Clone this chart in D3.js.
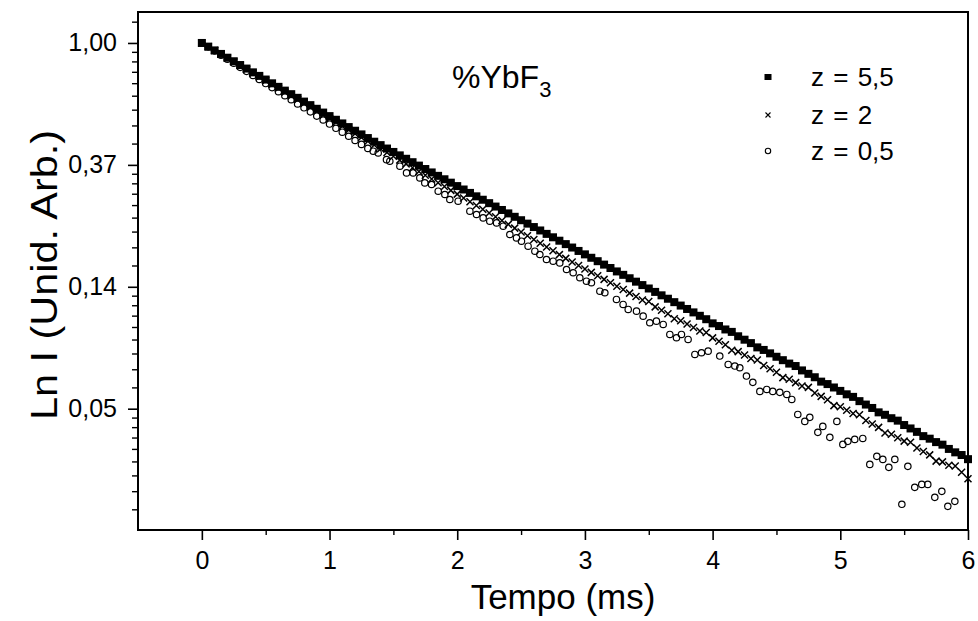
<!DOCTYPE html>
<html><head><meta charset="utf-8">
<script src="https://cdn.jsdelivr.net/npm/d3@7"></script>
<style>
body{margin:0;background:#fff}
svg{display:block}
text{font-family:"Liberation Sans",Arial,Helvetica,sans-serif;fill:#000}
</style>
</head><body>
<svg id="chart" width="978" height="621"></svg>
<script>
// ---- data (ln I values) ----
const timeGrid = [0.00,0.05,0.10,0.15,0.20,0.25,0.30,0.35,0.40,0.45,
0.50,0.55,0.60,0.65,0.70,0.75,0.80,0.85,0.90,0.95,
1.00,1.05,1.10,1.15,1.20,1.25,1.30,1.35,1.40,1.45,
1.50,1.55,1.60,1.65,1.70,1.75,1.80,1.85,1.90,1.95,
2.00,2.05,2.10,2.15,2.20,2.25,2.30,2.35,2.40,2.45,
2.50,2.55,2.60,2.65,2.70,2.75,2.80,2.85,2.90,2.95,
3.00,3.05,3.10,3.15,3.20,3.25,3.30,3.35,3.40,3.45,
3.50,3.55,3.60,3.65,3.70,3.75,3.80,3.85,3.90,3.95,
4.00,4.05,4.10,4.15,4.20,4.25,4.30,4.35,4.40,4.45,
4.50,4.55,4.60,4.65,4.70,4.75,4.80,4.85,4.90,4.95,
5.00,5.05,5.10,5.15,5.20,5.25,5.30,5.35,5.40,5.45,
5.50,5.55,5.60,5.65,5.70,5.75,5.80,5.85,5.90,5.95,
6.00];

const lnZ55 = [0.000,-0.030,-0.061,-0.090,-0.121,-0.150,-0.181,-0.210,-0.241,-0.270,
-0.300,-0.331,-0.360,-0.391,-0.420,-0.450,-0.481,-0.510,-0.540,-0.571,
-0.600,-0.630,-0.660,-0.690,-0.720,-0.750,-0.780,-0.810,-0.838,-0.866,
-0.894,-0.922,-0.950,-0.978,-1.006,-1.034,-1.062,-1.090,-1.118,-1.146,
-1.174,-1.202,-1.230,-1.258,-1.286,-1.314,-1.342,-1.370,-1.398,-1.426,
-1.454,-1.482,-1.510,-1.538,-1.566,-1.594,-1.622,-1.650,-1.678,-1.706,
-1.734,-1.762,-1.790,-1.818,-1.846,-1.874,-1.902,-1.930,-1.958,-1.986,
-2.014,-2.042,-2.070,-2.098,-2.126,-2.154,-2.182,-2.210,-2.238,-2.266,
-2.300,-2.322,-2.350,-2.370,-2.406,-2.434,-2.462,-2.497,-2.518,-2.546,
-2.574,-2.602,-2.630,-2.650,-2.686,-2.714,-2.742,-2.778,-2.798,-2.826,
-2.854,-2.882,-2.903,-2.938,-2.966,-2.994,-3.030,-3.050,-3.078,-3.098,
-3.134,-3.162,-3.190,-3.225,-3.246,-3.274,-3.295,-3.330,-3.358,-3.380,
-3.414];

const lnZ2 = [0.000,-0.031,-0.062,-0.093,-0.124,-0.155,-0.186,-0.217,-0.248,-0.279,
-0.310,-0.341,-0.372,-0.403,-0.434,-0.465,-0.496,-0.527,-0.558,-0.589,
-0.620,-0.651,-0.682,-0.713,-0.744,-0.775,-0.806,-0.837,-0.868,-0.899,
-0.930,-0.961,-0.992,-1.023,-1.054,-1.085,-1.116,-1.147,-1.178,-1.209,
-1.240,-1.271,-1.302,-1.333,-1.364,-1.395,-1.426,-1.457,-1.488,-1.519,
-1.550,-1.581,-1.612,-1.643,-1.674,-1.705,-1.736,-1.767,-1.797,-1.826,
-1.854,-1.882,-1.910,-1.939,-1.967,-1.995,-2.023,-2.052,-2.080,-2.108,
-2.120,-2.165,-2.193,-2.221,-2.262,-2.278,-2.306,-2.334,-2.362,-2.375,
-2.419,-2.447,-2.475,-2.520,-2.532,-2.560,-2.588,-2.600,-2.645,-2.673,
-2.701,-2.745,-2.758,-2.786,-2.814,-2.825,-2.871,-2.899,-2.927,-2.975,
-2.984,-3.012,-3.040,-3.050,-3.097,-3.125,-3.153,-3.200,-3.210,-3.238,
-3.266,-3.275,-3.323,-3.351,-3.379,-3.430,-3.436,-3.464,-3.470,-3.521,
-3.575];

const circTime = [0.00,0.05,0.10,0.15,0.20,0.25,0.30,0.35,0.40,0.45,0.50,0.55,0.60,0.65,0.70,0.75,0.80,0.85,0.90,0.95,1.00,1.05,1.10,1.15,1.20,1.25,1.30,
1.342,1.381,1.446,1.472,1.551,1.603,1.655,1.707,1.746,1.799,1.851,1.903,1.942,2.007,2.099,2.151,2.203,2.255,2.308,2.360,2.412,2.464,2.503,2.555,2.608,2.647,2.699,2.751,2.803,2.856,2.908,2.960,3.012,3.051,3.117,3.156,3.247,3.299,3.339,3.404,3.456,3.508,3.560,3.613,3.665,3.717,3.756,3.808,3.861,3.913,3.965,4.056,4.122,4.174,4.213,4.265,
4.315,4.370,4.424,4.471,4.526,4.581,4.620,4.667,4.722,4.761,4.824,4.863,4.918,4.973,5.020,5.059,5.113,5.176,5.231,5.286,5.333,5.380,5.427,5.482,5.529,5.583,5.638,5.685,5.740,5.795,5.842,5.897];

const lnZ05 = [0,-0.033,-0.066,-0.100,-0.133,-0.166,-0.200,-0.233,-0.266,-0.299,-0.333,-0.366,-0.400,-0.432,-0.465,-0.500,-0.532,-0.565,-0.600,-0.632,-0.665,-0.700,-0.732,-0.765,-0.800,-0.832,-0.865,
-0.888,-0.902,-0.957,-0.970,-1.011,-1.066,-1.066,-1.107,-1.148,-1.161,-1.216,-1.243,-1.284,-1.298,-1.380,-1.407,-1.435,-1.462,-1.476,-1.503,-1.571,-1.599,-1.626,-1.667,-1.708,-1.735,-1.776,-1.790,-1.804,-1.858,-1.885,-1.926,-1.954,-1.967,-2.036,-2.049,-2.104,-2.145,-2.186,-2.200,-2.241,-2.295,-2.282,-2.309,-2.391,-2.418,-2.391,-2.432,-2.555,-2.541,-2.528,-2.568,-2.637,-2.650,-2.664,-2.732,
-2.784,-2.858,-2.842,-2.858,-2.866,-2.883,-2.924,-3.047,-3.104,-3.071,-3.194,-3.145,-3.235,-3.104,-3.293,-3.268,-3.252,-3.244,-3.457,-3.391,-3.416,-3.481,-3.416,-3.784,-3.473,-3.645,-3.621,-3.621,-3.727,-3.678,-3.801,-3.760];

const xTickValues = [0,1,2,3,4,5,6];
const xMinorValues = [0.5,1.5,2.5,3.5,4.5,5.5];
const yTickLn = [0,-1,-2,-3];
const yTickLabels = ["1,00","0,37","0,14","0,05"];
const seriesNames = ["z = 5,5","z = 2","z = 0,5"];

// ---- layout ----
const L = 138, R = 968, T = 12, B = 530;
const svg = d3.select("#chart");
const x = d3.scaleLinear().domain([-0.5, 6]).range([L, R]);
const y = d3.scaleLinear().domain([-3.995, 0.254]).range([B, T]);

// minor y ticks: linear subdivisions between powers of e
const yMinor = [];
for (let k = -4; k <= 0; k++) {
  const a = Math.exp(k), b = Math.exp(k + 1);
  for (let j = 1; j <= 8; j++) {
    const v = Math.log(a + j * (b - a) / 9);
    if (v > y.domain()[0] && v < y.domain()[1]) yMinor.push(v);
  }
}

// axes
const gy = svg.append("g").attr("transform", `translate(${L},0)`)
  .call(d3.axisLeft(y).tickValues(yTickLn).tickFormat((d,i)=>yTickLabels[i]).tickSize(10).tickPadding(11));
gy.select(".domain").remove();
gy.selectAll("line").attr("stroke","#000").attr("stroke-width",1.6);
gy.selectAll("text").attr("font-size",25).attr("fill","#000");

const gym = svg.append("g").attr("transform", `translate(${L},0)`)
  .call(d3.axisLeft(y).tickValues(yMinor).tickFormat("").tickSize(6));
gym.select(".domain").remove();
gym.selectAll("line").attr("stroke","#000").attr("stroke-width",1.4);

const gx = svg.append("g").attr("transform", `translate(0,${B})`)
  .call(d3.axisBottom(x).tickValues(xTickValues).tickFormat(d3.format("d")).tickSize(10).tickPadding(11));
gx.select(".domain").remove();
gx.selectAll("line").attr("stroke","#000").attr("stroke-width",1.6);
gx.selectAll("text").attr("font-size",25).attr("fill","#000");

const gxm = svg.append("g").attr("transform", `translate(0,${B})`)
  .call(d3.axisBottom(x).tickValues(xMinorValues).tickFormat("").tickSize(5));
gxm.select(".domain").remove();
gxm.selectAll("line").attr("stroke","#000").attr("stroke-width",1.4);

// frame
svg.append("rect").attr("x",L).attr("y",T).attr("width",R-L).attr("height",B-T)
  .attr("fill","none").attr("stroke","#000").attr("stroke-width",2);

// data
const plot = svg.append("g");
const circData = circTime.map((t,i)=>({t, v: lnZ05[i]}));
const xData = timeGrid.map((t,i)=>({t, v: lnZ2[i]}));
const sqData = timeGrid.map((t,i)=>({t, v: lnZ55[i]}));

plot.selectAll("circle.c05").data(circData).join("circle")
  .attr("class","c05").attr("cx",d=>x(d.t)).attr("cy",d=>y(d.v)).attr("r",3.2)
  .attr("fill","none").attr("stroke","#000").attr("stroke-width",1.2);

plot.selectAll("path.x2").data(xData).join("path")
  .attr("class","x2").attr("transform",d=>`translate(${x(d.t)},${y(d.v)})`)
  .attr("d","M-3.5,-3.5L3.5,3.5M-3.5,3.5L3.5,-3.5").attr("stroke","#000").attr("stroke-width",1.5);

plot.selectAll("rect.s55").data(sqData).join("rect")
  .attr("class","s55").attr("x",d=>x(d.t)-4).attr("y",d=>y(d.v)-4)
  .attr("width",8).attr("height",8).attr("fill","#000");

// legend
const legY = [77, 115, 151];
const legX = 768;
svg.append("rect").attr("x",legX-3.5).attr("y",legY[0]-3).attr("width",7).attr("height",6).attr("fill","#000");
svg.append("path").attr("transform",`translate(${legX},${legY[1]})`).attr("d","M-2.5,-2.5L2.5,2.5M-2.5,2.5L2.5,-2.5").attr("stroke","#000").attr("stroke-width",1.1);
svg.append("circle").attr("cx",legX).attr("cy",legY[2]).attr("r",2.7).attr("fill","none").attr("stroke","#000").attr("stroke-width",1.1);
seriesNames.forEach((s,i)=>{
  svg.append("text").attr("x",811).attr("y",legY[i]+9).attr("font-size",26).attr("word-spacing",2).text(s);
});

// annotation
const ann = svg.append("text").attr("x",452).attr("y",88).attr("font-size",32);
ann.append("tspan").text("%YbF");
ann.append("tspan").attr("font-size",22).attr("dy",9).text("3");

// axis titles
svg.append("text").attr("x",(L+R)/2+10).attr("y",609).attr("text-anchor","middle").attr("font-size",35).text("Tempo (ms)");
svg.append("text").attr("transform",`translate(57,275) rotate(-90)`).attr("text-anchor","middle").attr("font-size",36)
  .attr("textLength",290).attr("lengthAdjust","spacingAndGlyphs").text("Ln I (Unid. Arb.)");
</script>
</body></html>
